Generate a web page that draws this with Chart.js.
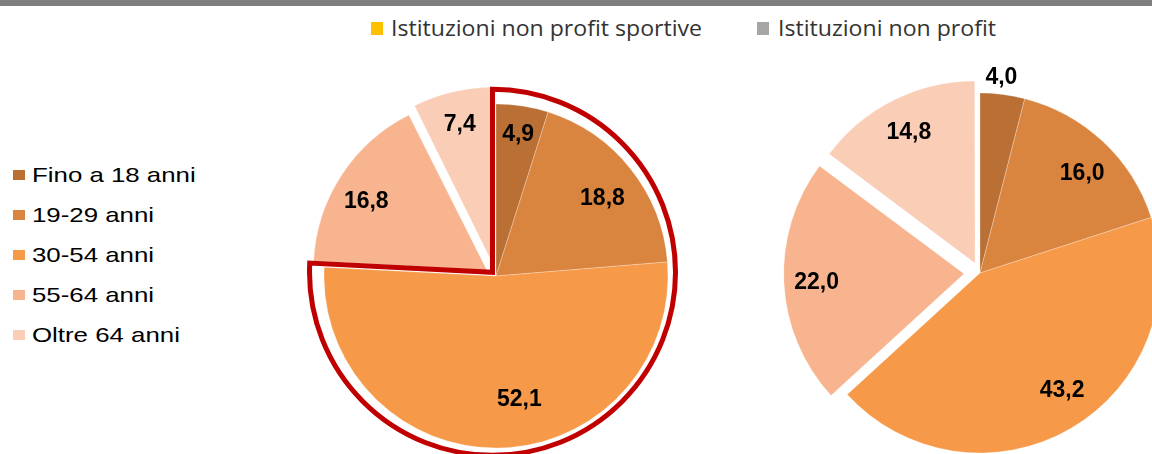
<!DOCTYPE html>
<html>
<head>
<meta charset="utf-8">
<script src="https://cdn.jsdelivr.net/npm/chart.js@4"></script>
<style>
  html, body { margin: 0; padding: 0; background: #fff; }
  body { width: 1152px; height: 454px; overflow: hidden; position: relative; }
  #topbar { position: absolute; left: 0; top: 0; width: 1152px; height: 6px; background: #7f7f7f; }
  canvas { position: absolute; }
  .sq { position: absolute; }
  .lt { position: absolute; white-space: nowrap; transform-origin: 0 50%; }
  .age { font-family: "Liberation Sans", Arial, sans-serif; font-size: 21px; line-height: 24px; color: #000; transform: scaleX(1.23); }
  .ser { font-family: "Open Sans", sans-serif; font-size: 21px; line-height: 24px; color: #333; transform: scaleX(1.1); }
</style>
</head>
<body>
<div id="topbar"></div>
<div id="legends"></div>
<canvas id="c1" width="400" height="400" style="left:296px; top:76px"></canvas>
<canvas id="c2" width="440" height="440" style="left:760px; top:53px"></canvas>
<script>
// ---- data ----
const categories = ['Fino a 18 anni', '19-29 anni', '30-54 anni', '55-64 anni', 'Oltre 64 anni'];
const sportiveValues = [4.9, 18.8, 52.1, 16.8, 7.4];
const nonProfitValues = [4.0, 16.0, 43.2, 22.0, 14.8];
const seriesNames = ['Istituzioni non profit sportive', 'Istituzioni non profit'];

// ---- styles ----
const sliceColors = ['#BA7034', '#DA853F', '#F69A4A', '#F7B48F', '#F9CDB6'];
const seriesColors = ['#FFC000', '#A5A5A5'];

const fmt = v => v.toFixed(1).replace('.', ',');

const sliceLabels = {
  id: 'sliceLabels',
  afterDatasetsDraw(chart, args, opts) {
    const ctx = chart.ctx;
    const meta = chart.getDatasetMeta(0);
    const values = chart.data.datasets[0].data;
    ctx.save();
    ctx.font = 'bold ' + opts.size + 'px "Liberation Sans", Arial, sans-serif';
    ctx.fillStyle = '#000';
    ctx.textAlign = 'center';
    ctx.textBaseline = 'alphabetic';
    meta.data.forEach((arc, i) => {
      const mid = (arc.startAngle + arc.endAngle) / 2;
      const shift = (arc.options.offset || 0) / 4;
      const ang = mid + (opts.angleShift[i] || 0) * Math.PI / 180;
      const r = arc.outerRadius * opts.radius[i];
      const x = arc.x + Math.cos(mid) * shift + Math.cos(ang) * r;
      const y = arc.y + Math.sin(mid) * shift + Math.sin(ang) * r;
      ctx.fillText(fmt(values[i]), x, y + opts.size * 0.716 / 2);
    });
    ctx.restore();
  }
};

const groupOutline = {
  id: 'groupOutline',
  afterDatasetsDraw(chart, args, opts) {
    if (!opts || !opts.display) return;
    const meta = chart.getDatasetMeta(0);
    const first = meta.data[opts.from], last = meta.data[opts.to];
    const a0 = first.startAngle, a1 = last.endAngle;
    const g = opts.gap;
    const n0x = Math.sin(a0), n0y = -Math.cos(a0);
    const n1x = -Math.sin(a1), n1y = Math.cos(a1);
    const det = n0x * n1y - n0y * n1x;
    const px = first.x + g * (n1y - n0y) / det;
    const py = first.y + g * (n0x - n1x) / det;
    const ro = first.outerRadius + opts.extra;
    const ctx = chart.ctx;
    ctx.save();
    ctx.beginPath();
    ctx.moveTo(px, py);
    ctx.arc(px, py, ro, a0, a1);
    ctx.closePath();
    ctx.lineWidth = opts.width;
    ctx.lineJoin = 'miter';
    ctx.strokeStyle = opts.color;
    ctx.stroke();
    ctx.restore();
  }
};

function makePie(id, values, radius, offsets, labelOpts, outline) {
  return new Chart(document.getElementById(id), {
    type: 'pie',
    data: {
      labels: categories,
      datasets: [{
        data: values,
        backgroundColor: sliceColors,
        borderColor: 'rgba(255,255,255,0.5)',
        borderWidth: 0.5,
        offset: offsets
      }]
    },
    options: {
      responsive: false,
      animation: false,
      events: [],
      radius: radius,
      layout: { padding: 0 },
      plugins: {
        legend: { display: false },
        tooltip: { enabled: false },
        sliceLabels: labelOpts,
        groupOutline: outline
      }
    },
    plugins: [sliceLabels, groupOutline]
  });
}

makePie('c1', sportiveValues, 172, [0, 0, 0, 44, 44],
  { size: 23, radius: [0.84, 0.77, 0.72, 0.81, 0.85], angleShift: [0, 2, -10, -3, 0] },
  { display: true, from: 0, to: 2, gap: 3.5, extra: 11, width: 5, color: '#C00000' });

makePie('c2', nonProfitValues, 180, [0, 0, 0, 64, 44],
  { size: 23, radius: [1.10, 0.80, 0.79, 0.82, 0.82], angleShift: [-1, 2, -5, 0, 0] },
  { display: false });

// ---- HTML legends ----
const lg = document.getElementById('legends');
categories.forEach((c, i) => {
  const cy = 174.5 + 40 * i;
  const sq = document.createElement('div');
  sq.className = 'sq';
  sq.style.cssText = `left:13px; top:${cy - 5}px; width:12px; height:10px; background:${sliceColors[i]}`;
  lg.appendChild(sq);
  const t = document.createElement('div');
  t.className = 'lt age';
  t.style.left = '32px';
  t.style.top = (cy - 12) + 'px';
  t.textContent = c;
  lg.appendChild(t);
});
const serX = [[371, 391], [757, 778]];
seriesNames.forEach((s, i) => {
  const sq = document.createElement('div');
  sq.className = 'sq';
  sq.style.cssText = `left:${serX[i][0]}px; top:22px; width:12px; height:13px; background:${seriesColors[i]}`;
  lg.appendChild(sq);
  const t = document.createElement('div');
  t.className = 'lt ser';
  t.style.left = serX[i][1] + 'px';
  t.style.top = '16px';
  t.textContent = s;
  lg.appendChild(t);
});
</script>
</body>
</html>
